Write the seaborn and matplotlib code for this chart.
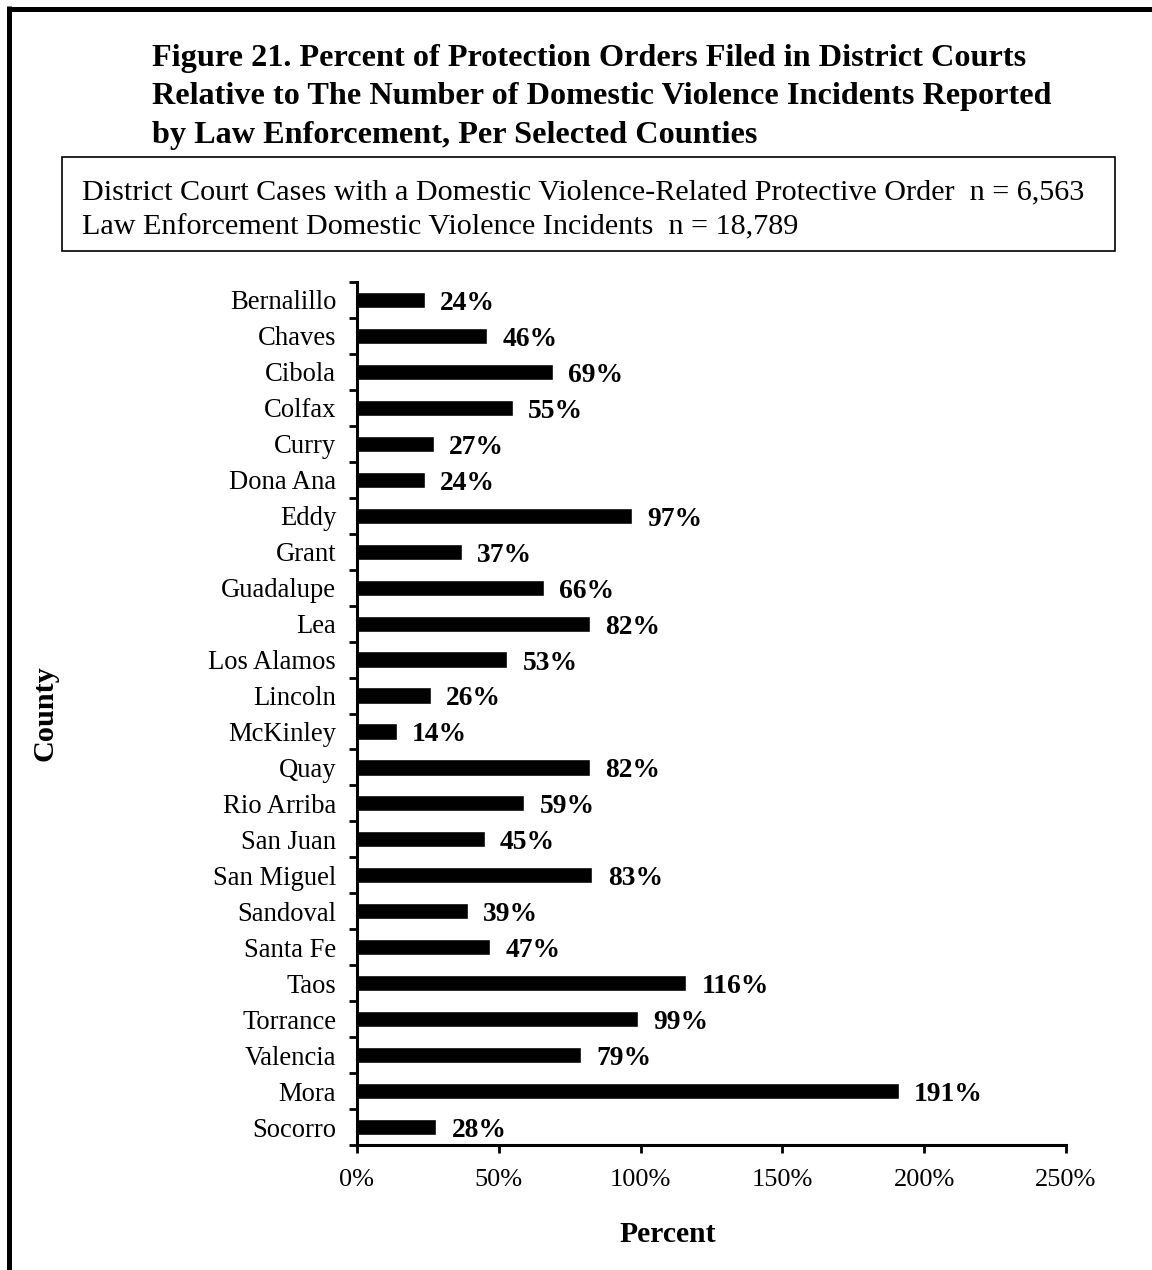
import matplotlib
matplotlib.use("Agg")
import matplotlib.pyplot as plt
import seaborn as sns
import pandas as pd
from matplotlib.lines import Line2D
from matplotlib.patches import Rectangle
from matplotlib.ticker import FixedLocator, FuncFormatter

counties = ["Bernalillo", "Chaves", "Cibola", "Colfax", "Curry", "Dona Ana", "Eddy",
            "Grant", "Guadalupe", "Lea", "Los Alamos", "Lincoln", "McKinley", "Quay",
            "Rio Arriba", "San Juan", "San Miguel", "Sandoval", "Santa Fe", "Taos",
            "Torrance", "Valencia", "Mora", "Socorro"]
percents = [24, 46, 69, 55, 27, 24, 97, 37, 66, 82, 53, 26, 14, 82, 59, 45, 83,
            39, 47, 116, 99, 79, 191, 28]
x_ticks = [0, 50, 100, 150, 200, 250]

title_text = ("Figure 21. Percent of Protection Orders Filed in District Courts\n"
              "Relative to The Number of Domestic Violence Incidents Reported\n"
              "by Law Enforcement, Per Selected Counties")
box_line1 = "District Court Cases with a Domestic Violence-Related Protective Order  n = 6,563"
box_line2 = "Law Enforcement Domestic Violence Incidents  n = 18,789"

sns.set_theme(style="white")
plt.rcParams['font.family'] = ['Liberation Serif', 'DejaVu Serif']

W, H = 1152, 1270
fig = plt.figure(figsize=(W / 100, H / 100), dpi=100)
ax = fig.add_axes([357 / W, 1 - 1145 / H, (1066 - 357) / W, (1145 - 282) / H])

df = pd.DataFrame({"County": counties, "Percent": percents})
sns.barplot(data=df, y="County", x="Percent", orient="h", color="black",
            width=0.45, ax=ax, saturation=1)

ax.set_xlim(0, 250)
ax.set_ylim(len(counties) - 0.5, -0.5)
ax.xaxis.set_major_locator(FixedLocator(x_ticks))
ax.xaxis.set_major_formatter(FuncFormatter(lambda v, p: f"{int(v)}%"))

for s in ["top", "right"]:
    ax.spines[s].set_visible(False)
for s in ["left", "bottom"]:
    ax.spines[s].set_linewidth(2.2)
    ax.spines[s].set_color("black")

ax.tick_params(axis="x", which="major", direction="out", length=6, width=2,
               color="black", labelsize=19, pad=11.5, bottom=True)
ax.tick_params(axis="y", which="major", length=0, labelsize=19.2, pad=15)
ax.yaxis.set_minor_locator(FixedLocator([i - 0.5 for i in range(len(counties) + 1)]))
ax.tick_params(axis="y", which="minor", direction="out", length=6, width=2,
               color="black", left=True)
for lbl in ax.get_xticklabels() + ax.get_yticklabels():
    lbl.set_color("black")

ax.set_xlabel("Percent", fontsize=21.3, fontweight="bold", color="black")
ax.set_ylabel("County", fontsize=21.8, fontweight="bold", color="black")
ax.yaxis.set_label_coords((45 - 357) / (1066 - 357), 0.5)
ax.yaxis.label.set_va("center")
ax.xaxis.set_label_coords((668 - 357) / (1066 - 357), -(1235 - 1145) / (1145 - 282))
ax.xaxis.label.set_va("center")

for i, v in enumerate(percents):
    ax.annotate(f"{v}%", xy=(v, i), xytext=(11, -2.5), textcoords="offset points",
                ha="left", va="center", fontsize=19.8, fontweight="bold", color="black")

fig.text(152 / W, 1 - 44 / H, title_text, ha="left", va="top", fontsize=23.2,
         fontweight="bold", linespacing=1.43, color="black")

fig.add_artist(Rectangle((62 / W, 1 - 251 / H), (1115 - 62) / W, (251 - 157) / H,
                         transform=fig.transFigure, fill=False, edgecolor="black",
                         linewidth=1.2))
fig.text(82 / W, 1 - 192 / H, box_line1, ha="left", va="center", fontsize=21.7, color="black")
fig.text(82 / W, 1 - 227 / H, box_line2, ha="left", va="center", fontsize=21.7, color="black")

fig.add_artist(Line2D([9 / W, 9 / W], [0, 1 - 6 / H], transform=fig.transFigure,
                      color="black", linewidth=3.6, solid_capstyle="butt"))
fig.add_artist(Line2D([6.5 / W, 1], [1 - 8.5 / H, 1 - 8.5 / H], transform=fig.transFigure,
                      color="black", linewidth=3.6, solid_capstyle="butt"))

fig.savefig("out.png", dpi=100, facecolor="white")
